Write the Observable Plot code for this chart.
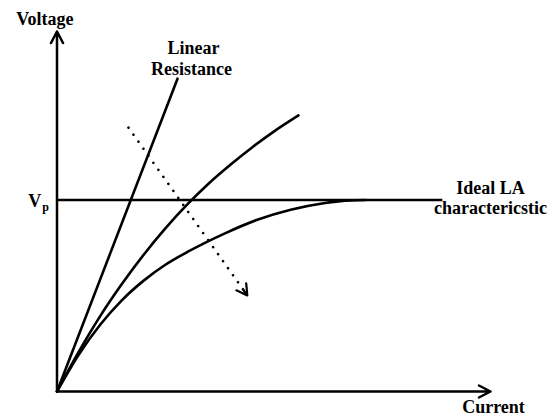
<!DOCTYPE html>
<html><head><meta charset="utf-8">
<script src="https://cdn.jsdelivr.net/npm/d3@7"></script>
<script src="https://cdn.jsdelivr.net/npm/@observablehq/plot@0.6"></script>
<style>html,body{margin:0;padding:0;background:#fff;}</style>
</head><body><div id="chart"></div>
<script>
// Values in chart units (current 0..100, voltage 0..100)
const vp = 53.2;
const vpEnd = 89;
const linearI = [0, 27.8];
const linearV = [0, 86.9];
const curve1I = [0, 5, 10, 15, 20, 25, 30, 35, 40, 45, 50, 55.7];
const curve1V = [0, 11.0, 21.0, 29.9, 38.0, 45.3, 51.9, 57.8, 63.0, 67.8, 72.2, 76.7];
const curve2I = [0, 5, 10, 15, 20, 25, 30.3, 38.5, 46.2, 53.9, 61.5, 67.7, 71.2];
const curve2V = [0, 10.2, 18.6, 25.4, 30.8, 35.2, 38.9, 43.8, 47.7, 50.5, 52.3, 53.1, 53.2];
const trendFrom = [16.5, 73.3];
const trendTo = [43.9, 26.7];
const axisMax = 100;
const labelText = ["Voltage", "Linear", "Resistance", "Ideal LA", "charactericstic", "Current"];
const labelI = [-2.8, 31.5, 31.0, 100, 100, 100.7];
const labelV = [101.7, 93.8, 88.0, 54.9, 49.4, -6.0];
const vpLabelI = -3.64;
const vpLabelV = 51.2;

const toPts = (xs, ys) => xs.map((x, k) => ({i: x, v: ys[k]}));
const linear = toPts(linearI, linearV);
const curve1 = toPts(curve1I, curve1V);
const curve2 = toPts(curve2I, curve2V);
const trend = [{i1: trendFrom[0], v1: trendFrom[1], i2: trendTo[0], v2: trendTo[1]}];
const axes = [
  {i1: 0, v1: 0, i2: 0, v2: axisMax},
  {i1: 0, v1: 0, i2: axisMax, v2: 0}
];
const labels = labelText.map((t, k) => ({t, i: labelI[k], v: labelV[k]}));

const font = "'Liberation Serif', 'Times New Roman', serif";
const chart = Plot.plot({
  width: 556,
  height: 417,
  marginLeft: 56.5,
  marginRight: 66,
  marginTop: 31,
  marginBottom: 26,
  x: {domain: [0, axisMax], axis: null},
  y: {domain: [0, axisMax], axis: null},
  style: {fontFamily: font, background: "white", overflow: "visible"},
  marks: [
    Plot.arrow(axes, {x1: "i1", y1: "v1", x2: "i2", y2: "v2", stroke: "black", strokeWidth: 2.5, headLength: 7.8, headAngle: 55}),
    Plot.ruleY([vp], {x1: 0, x2: vpEnd, stroke: "black", strokeWidth: 2.7}),
    Plot.line(linear, {x: "i", y: "v", stroke: "black", strokeWidth: 2.6}),
    Plot.line(curve1, {x: "i", y: "v", stroke: "black", strokeWidth: 2.6, curve: "monotone-x"}),
    Plot.line(curve2, {x: "i", y: "v", stroke: "black", strokeWidth: 2.6, curve: "monotone-x"}),
    Plot.link(trend, {x1: "i1", y1: "v1", x2: "i2", y2: "v2", stroke: "black", strokeWidth: 2.6, strokeDasharray: "0.01,8.6", strokeLinecap: "round"}),
    Plot.arrow(trend, {x1: "i1", y1: "v1", x2: "i2", y2: "v2", stroke: "black", strokeWidth: 2.2, insetStart: 199, headLength: 8.2, headAngle: 60}),
    Plot.text(labels, {x: "i", y: "v", text: "t", fontSize: 18, fontWeight: "bold", lineAnchor: "bottom", fill: "black"}),
    Plot.text(["V"], {x: vpLabelI, y: vpLabelV, text: d => d, fontSize: 18, fontWeight: "bold", lineAnchor: "bottom", textAnchor: "end", fill: "black"}),
    Plot.text(["p"], {x: vpLabelI, y: vpLabelV, text: d => d, fontSize: 12, fontWeight: "bold", lineAnchor: "bottom", textAnchor: "start", dx: 1, dy: 3.5, fill: "black"})
  ]
});
document.getElementById("chart").appendChild(chart);
</script>
</body></html>
